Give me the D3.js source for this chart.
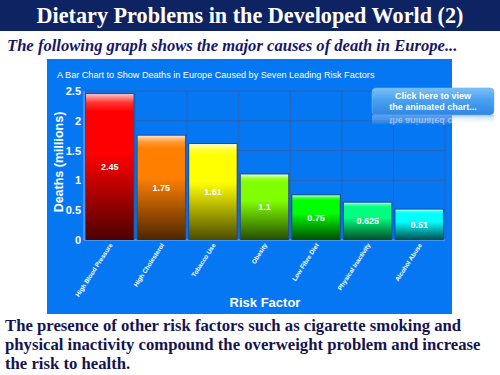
<!DOCTYPE html>
<html>
<head>
<meta charset="utf-8">
<script src="https://cdn.jsdelivr.net/npm/d3@7"></script>
<style>
  body { margin: 0; background: #fff; }
  svg { display: block; }
</style>
</head>
<body>
<svg id="chart" width="500" height="375"></svg>
<script>
// Data
const factors = ["High Blood Pressure", "High Cholesterol", "Tobacco Use", "Obesity",
  "Low Fibre Diet", "Physical Inactivity", "Alcohol Abuse"];
const deaths = [2.45, 1.75, 1.61, 1.1, 0.75, 0.625, 0.51];
const barColors = ["#ff0000", "#ff8000", "#ffff00", "#80ff00", "#00ff00", "#00ff80", "#00ffff"];
const yTicks = [0, 0.5, 1, 1.5, 2, 2.5];

const svg = d3.select("#chart");
const defs = svg.append("defs");

// Header band
svg.append("rect")
  .attr("x", 0).attr("y", 0).attr("width", 500).attr("height", 31)
  .attr("fill", "#0d2362");
svg.append("text")
  .attr("x", 250).attr("y", 23)
  .attr("text-anchor", "middle")
  .style("font", "bold 22.2px 'Liberation Serif', serif")
  .attr("fill", "#fff")
  .text("Dietary Problems in the Developed World (2)");

svg.append("text")
  .attr("x", 7).attr("y", 51)
  .style("font", "italic bold 16.6px 'Liberation Serif', serif")
  .attr("fill", "#161668")
  .text("The following graph shows the major causes of death in Europe...");

// Chart panel
svg.append("rect")
  .attr("x", 47).attr("y", 59).attr("width", 405).attr("height", 255)
  .attr("fill", "#0677f2");

svg.append("text")
  .attr("x", 57).attr("y", 78)
  .style("font", "9.1px 'Liberation Sans', Arial, sans-serif")
  .attr("fill", "#fff")
  .text("A Bar Chart to Show Deaths in Europe Caused by Seven Leading Risk Factors");

// Scales
const x = d3.scaleBand().domain(factors).range([84, 445]).paddingInner(0.08).paddingOuter(0.04);
const y = d3.scaleLinear().domain([0, 2.5]).range([240, 91]);

// Grid
const grid = svg.append("g");
grid.selectAll("line.h").data(yTicks.slice(1))
  .enter().append("line")
  .attr("x1", 84).attr("x2", 445)
  .attr("y1", d => y(d)).attr("y2", d => y(d))
  .attr("stroke", "#2d63b4").attr("stroke-width", 1);
grid.selectAll("line.v").data(factors)
  .enter().append("line")
  .attr("x1", (d, i) => 84 + (i + 1) * (361 / 7))
  .attr("x2", (d, i) => 84 + (i + 1) * (361 / 7))
  .attr("y1", y(2.5)).attr("y2", y(0))
  .attr("stroke", "#2d63b4").attr("stroke-width", 1);

// axis lines
svg.append("line").attr("x1", 84).attr("x2", 84).attr("y1", y(2.5)).attr("y2", y(0))
  .attr("stroke", "#5aa0f0").attr("stroke-width", 1.5);
svg.append("line").attr("x1", 84).attr("x2", 445).attr("y1", y(0)).attr("y2", y(0))
  .attr("stroke", "#5aa0f0").attr("stroke-width", 1.5);

// Gradients per bar
barColors.forEach((c, i) => {
  const col = d3.rgb(c);
  const g = defs.append("linearGradient")
    .attr("id", "bar" + i).attr("x1", 0).attr("x2", 0).attr("y1", 0).attr("y2", 1);
  g.append("stop").attr("offset", "0%").attr("stop-color", d3.interpolateRgb(c, "#fff")(0.75));
  g.append("stop").attr("offset", "6%").attr("stop-color", d3.interpolateRgb(c, "#fff")(0.2));
  g.append("stop").attr("offset", "12%").attr("stop-color", c);
  g.append("stop").attr("offset", "40%").attr("stop-color", c);
  g.append("stop").attr("offset", "100%").attr("stop-color", col.darker(3.4));
});

// Bars
const bars = svg.append("g");
bars.selectAll("rect.shadow").data(deaths)
  .enter().append("rect")
  .attr("x", (d, i) => x(factors[i]) - 1)
  .attr("y", d => y(d) - 1)
  .attr("width", x.bandwidth() + 2)
  .attr("height", d => y(0) - y(d) + 1)
  .attr("fill", "#1a4d9a");
bars.selectAll("rect.bar").data(deaths)
  .enter().append("rect")
  .attr("x", (d, i) => x(factors[i]))
  .attr("y", d => y(d))
  .attr("width", x.bandwidth())
  .attr("height", d => y(0) - y(d))
  .attr("fill", (d, i) => "url(#bar" + i + ")");

// Value labels
bars.selectAll("text").data(deaths)
  .enter().append("text")
  .attr("x", (d, i) => x(factors[i]) + x.bandwidth() / 2)
  .attr("y", d => (y(d) + y(0)) / 2 + 3)
  .attr("text-anchor", "middle")
  .style("font", "bold 9px 'Liberation Sans', Arial, sans-serif")
  .attr("fill", "#fff")
  .text(d => d);

// Y axis
const yAxis = svg.append("g")
  .attr("transform", "translate(84,0)")
  .call(d3.axisLeft(y).tickValues(yTicks).tickSize(0).tickPadding(3).tickFormat(d3.format("")));
yAxis.select(".domain").remove();
yAxis.selectAll("text")
  .style("font", "bold 11px 'Liberation Sans', Arial, sans-serif")
  .attr("fill", "#fff");

// X axis labels
const xAxis = svg.append("g")
  .attr("transform", "translate(0,240)")
  .call(d3.axisBottom(x).tickSize(0).tickPadding(0));
xAxis.select(".domain").remove();
xAxis.selectAll("text")
  .style("font", "bold 6.3px 'Liberation Sans', Arial, sans-serif")
  .attr("fill", "#fff")
  .attr("text-anchor", "end")
  .attr("dy", 0)
  .attr("transform", "translate(3,5) rotate(-57)");

// Axis titles
svg.append("text")
  .attr("transform", "translate(63,162) rotate(-90)")
  .attr("text-anchor", "middle")
  .style("font", "bold 12.5px 'Liberation Sans', Arial, sans-serif")
  .attr("fill", "#fff")
  .text("Deaths (millions)");
svg.append("text")
  .attr("x", 265).attr("y", 307)
  .attr("text-anchor", "middle")
  .style("font", "bold 13px 'Liberation Sans', Arial, sans-serif")
  .attr("fill", "#fff")
  .text("Risk Factor");

// Button
const btnGrad = defs.append("linearGradient").attr("id", "btn")
  .attr("x1", 0).attr("x2", 0).attr("y1", 0).attr("y2", 1);
btnGrad.append("stop").attr("offset", "0%").attr("stop-color", "#7cc0f8");
btnGrad.append("stop").attr("offset", "45%").attr("stop-color", "#4aa0ee");
btnGrad.append("stop").attr("offset", "100%").attr("stop-color", "#2f86e4");
const reflGrad = defs.append("linearGradient").attr("id", "refl")
  .attr("x1", 0).attr("x2", 0).attr("y1", 0).attr("y2", 1);
reflGrad.append("stop").attr("offset", "0%").attr("stop-color", "#7fb6ee").attr("stop-opacity", 0.6);
reflGrad.append("stop").attr("offset", "100%").attr("stop-color", "#ffffff").attr("stop-opacity", 0);

const btn = svg.append("g");
btn.append("rect").attr("x", 372).attr("y", 115).attr("width", 122).attr("height", 10)
  .attr("fill", "url(#refl)");
btn.append("text")
  .attr("x", 433).attr("y", 118)
  .attr("text-anchor", "middle")
  .attr("transform", "translate(0,236) scale(1,-1)")
  .style("font", "bold 9px 'Liberation Sans', Arial, sans-serif")
  .attr("fill", "#fff").attr("opacity", 0.45)
  .text("the animated chart...");
btn.append("rect").attr("x", 372).attr("y", 88).attr("width", 122).attr("height", 27)
  .attr("rx", 4).attr("fill", "url(#btn)").attr("stroke", "#6fb4f4").attr("stroke-width", 0.6);
btn.append("text")
  .attr("x", 433).attr("y", 99)
  .attr("text-anchor", "middle")
  .style("font", "bold 9px 'Liberation Sans', Arial, sans-serif")
  .attr("fill", "#fff")
  .text("Click here to view");
btn.append("text")
  .attr("x", 433).attr("y", 110)
  .attr("text-anchor", "middle")
  .style("font", "bold 9px 'Liberation Sans', Arial, sans-serif")
  .attr("fill", "#fff")
  .text("the animated chart...");

// Bottom text
const bottomLines = [
  "The presence of other risk factors such as cigarette smoking and",
  "physical inactivity compound the overweight problem and increase",
  "the risk to health."
];
svg.append("g").selectAll("text").data(bottomLines)
  .enter().append("text")
  .attr("x", 5)
  .attr("y", (d, i) => 331 + i * 19)
  .style("font", "bold 16.7px 'Liberation Serif', serif")
  .attr("fill", "#141450")
  .text(d => d);
</script>
</body>
</html>
